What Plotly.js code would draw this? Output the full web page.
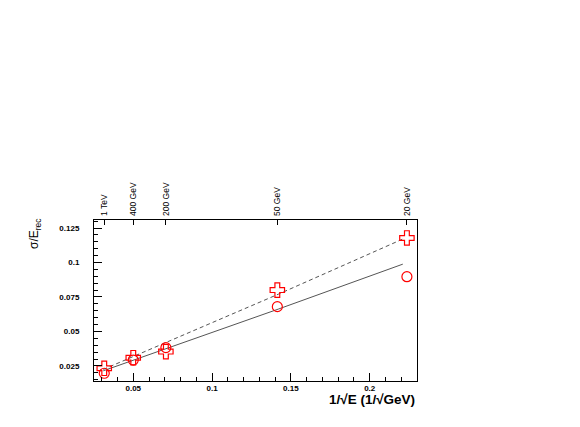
<!DOCTYPE html>
<html>
<head>
<meta charset="utf-8">
<script src="https://cdn.plot.ly/plotly-3.0.1.min.js"></script>
<style>body{margin:0;background:#fff}#graph{width:580px;height:427px}</style>
</head>
<body>
<div id="graph"></div>
<script>
// 1/sqrt(E) for 1 TeV, 400, 200, 50, 20 GeV
var invSqrtE = [0.0316, 0.05, 0.0707, 0.1414, 0.2236];
var crossRes = [0.0233, 0.0310, 0.0354, 0.0800, 0.1178];
var circleRes = [0.0197, 0.0293, 0.0383, 0.0680, 0.0897];

var fitX = [0.031, 0.142, 0.221];
var dashedFit = [0.0225, 0.0770, 0.1170];
var solidFit = [0.0215, 0.0662, 0.0988];

var energyTicks = [0.0316, 0.05, 0.0707, 0.1414, 0.2236];
var energyLabels = ['1 TeV', '400 GeV', '200 GeV', '50 GeV', '20 GeV'];

var data = [
  {x: fitX, y: dashedFit, mode: 'lines', line: {color: '#555', width: 1, dash: '4px,3px'}},
  {x: fitX, y: solidFit, mode: 'lines', line: {color: '#555', width: 1}},
  {x: invSqrtE, y: crossRes, mode: 'markers',
   marker: {symbol: 'cross-open', size: 12, color: 'red', line: {color: 'red', width: 1.2}}},
  {x: invSqrtE, y: circleRes, mode: 'markers',
   marker: {symbol: 'circle-open', size: 10, color: 'red', line: {color: 'red', width: 1.2}}},
  {x: [0.1], y: [0.05], xaxis: 'x2', mode: 'markers', marker: {opacity: 0}, hoverinfo: 'skip'}
];

var tickFont = {family: 'Liberation Sans, Arial, sans-serif', size: 8, color: '#000', weight: 'bold'};

var layout = {
  width: 580, height: 427,
  margin: {l: 94, r: 163, t: 220, b: 46},
  showlegend: false,
  paper_bgcolor: '#fff', plot_bgcolor: '#fff',
  xaxis: {
    range: [0.0251, 0.2300], showgrid: false, zeroline: false,
    showline: true, linecolor: '#000', linewidth: 1, mirror: true,
    tickvals: [0.05, 0.1, 0.15, 0.2], ticktext: ['0.05', '0.1', '0.15', '0.2'],
    ticks: 'inside', ticklen: 8, tickcolor: '#000',
    minor: {ticks: 'inside', dtick: 0.01, tick0: 0, ticklen: 4, tickcolor: '#000'},
    tickfont: tickFont, ticklabelstandoff: -1
  },
  xaxis2: {
    overlaying: 'x', side: 'top', range: [0.0251, 0.2300],
    showgrid: false, zeroline: false, showline: false,
    tickvals: energyTicks, ticktext: energyLabels, tickangle: -90,
    ticks: 'inside', ticklen: 5, tickcolor: '#000',
    tickfont: {family: 'Liberation Sans Narrow, Arial Narrow, sans-serif', size: 8.5, color: '#000'},
    ticklabelstandoff: 3
  },
  yaxis: {
    range: [0.0141, 0.1308], showgrid: false, zeroline: false,
    showline: true, linecolor: '#000', linewidth: 1, mirror: true,
    tickvals: [0.025, 0.05, 0.075, 0.1, 0.125], ticktext: ['0.025', '0.05', '0.075', '0.1', '0.125'],
    ticks: 'inside', ticklen: 8, tickcolor: '#000',
    minor: {ticks: 'inside', dtick: 0.005, tick0: 0, ticklen: 4, tickcolor: '#000'},
    tickfont: tickFont, ticklabelstandoff: 12
  },
  annotations: [
    {text: '1/\u221AE (1/\u221AGeV)', xref: 'paper', yref: 'paper', x: 1, y: 0,
     xanchor: 'right', yanchor: 'top', yshift: -9, showarrow: false,
     font: {family: 'Liberation Sans, Arial, sans-serif', size: 13.5, color: '#000', weight: 'bold'}},
    {text: '\u03C3/E<sub>rec</sub>', xref: 'paper', yref: 'paper', x: 0, y: 1,
     xanchor: 'right', yanchor: 'top', xshift: -49, yshift: 3, textangle: -90, showarrow: false,
     font: {family: 'Liberation Sans Narrow, Arial, sans-serif', size: 12, color: '#000'}}
  ]
};

Plotly.newPlot('graph', data, layout, {displayModeBar: false, staticPlot: true});
</script>
</body>
</html>
